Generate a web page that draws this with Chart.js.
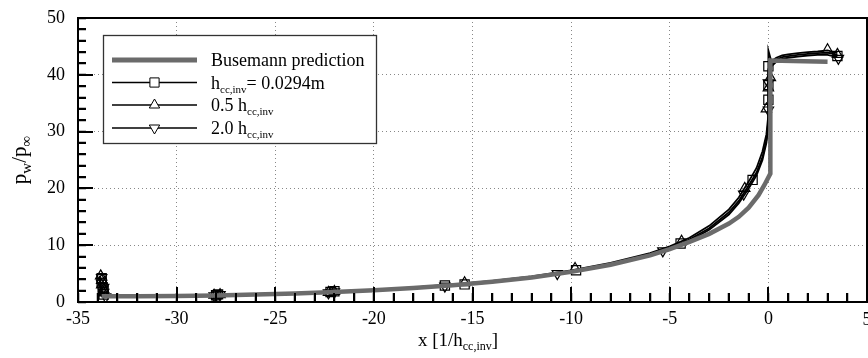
<!DOCTYPE html>
<html>
<head>
<meta charset="utf-8">
<script src="https://cdn.jsdelivr.net/npm/chart.js@4"></script>
<style>
html,body{margin:0;padding:0;background:#fff;}
canvas{display:block;}
</style>
</head>
<body>
<canvas id="chart" width="868" height="358" style="width:868px;height:358px"></canvas>
<script>
// tick values (every integer / every 2 units carries a minor tick)
var xTicks = [-35, -30, -25, -20, -15, -10, -5, 0, 5];
var yTicks = [0, 10, 20, 30, 40, 50];
var xMinor = [];
for (var i = -35; i <= 5; i++) xMinor.push(i);
var yMinor = [];
for (var j = 0; j <= 50; j += 2) yMinor.push(j);

// Busemann prediction (grey)
var busX = [-33.8, -32, -30, -28, -26, -24, -22, -20, -18, -16, -14, -12, -10, -8, -6, -5, -4, -3, -2, -1.5, -1, -0.5, -0.2, 0.1, 0.1, 3.0];
var busY = [1.0, 1.0, 1.05, 1.15, 1.3, 1.5, 1.75, 2.05, 2.45, 2.95, 3.55, 4.3, 5.3, 6.55, 8.2, 9.3, 10.6, 12.0, 13.8, 15.0, 16.6, 18.8, 20.6, 22.6, 42.5, 42.3];

// computed wall pressure lines, same x stations for the three grids
var lineX = [-33.9, -33.8, -33.5, -32, -30, -28, -26, -24, -22, -20, -18, -16, -14, -12, -10, -8, -6, -5, -4, -3, -2, -1.5, -1, -0.6, -0.3, -0.1, 0, 0, 0.15, 0.4, 0.7, 1, 1.5, 2, 2.5, 3, 3.5];
var lineH  = [3.8, 1.4, 1.1, 1.05, 1.1, 1.2, 1.35, 1.55, 1.8, 2.1, 2.5, 3.0, 3.6, 4.4, 5.4, 6.7, 8.4, 9.6, 11.0, 13.0, 15.8, 17.8, 20.5, 22.8, 25.5, 28.5, 32.0, 41.0, 42.0, 42.7, 43.1, 43.3, 43.5, 43.7, 43.8, 43.9, 43.5];
var lineH05 = [4.6, 1.6, 1.2, 1.1, 1.15, 1.25, 1.4, 1.6, 1.85, 2.15, 2.55, 3.1, 3.7, 4.5, 5.55, 6.9, 8.6, 9.8, 11.3, 13.4, 16.3, 18.4, 21.2, 23.6, 26.5, 29.5, 33.0, 44.3, 42.4, 43.0, 43.4, 43.6, 43.8, 44.0, 44.1, 44.3, 43.8];
var lineH20 = [4.2, 1.2, 1.0, 0.95, 1.0, 1.1, 1.25, 1.45, 1.7, 2.0, 2.4, 2.85, 3.45, 4.25, 5.2, 6.5, 8.2, 9.3, 10.7, 12.7, 15.4, 17.4, 20.0, 22.3, 25.0, 28.0, 31.0, 40.5, 41.5, 42.3, 42.8, 43.0, 43.2, 43.4, 43.5, 43.5, 43.1];

// markers
var sqX = [-33.8, -33.8, -33.75, -33.7, -33.7, -28, -27.9, -22.2, -22.0, -16.4, -15.4, -9.75, -4.45, -0.8, 0, 0, 0, 3.5];
var sqY = [4.2, 3.4, 2.6, 2.0, 1.3, 1.2, 1.35, 1.75, 1.9, 2.9, 3.1, 5.6, 10.3, 21.5, 35.6, 38.2, 41.5, 43.3];
var upX = [-33.85, -33.8, -33.8, -33.7, -33.7, -27.8, -28.1, -22.0, -22.3, -15.4, -9.8, -4.4, -1.2, -0.1, 0, 0.1, 3.0, 3.5];
var upY = [4.6, 3.8, 3.0, 2.2, 1.6, 1.3, 1.2, 1.85, 1.7, 3.4, 5.9, 10.7, 20.0, 34.0, 37.7, 39.5, 44.4, 43.6];
var dnX = [-33.8, -33.8, -33.7, -33.7, -33.6, -28.1, -27.8, -22.3, -22.0, -16.4, -10.7, -5.35, -1.25, 0, 0, 3.55];
var dnY = [4.3, 3.3, 2.6, 1.7, 0.9, 1.1, 1.3, 1.6, 1.8, 2.8, 5.0, 9.0, 19.0, 33.8, 38.6, 42.9];

var FONT = "'Liberation Serif', 'Times New Roman', serif";
var GREY = '#6b6b6b';

function pts(xs, ys) {
	return xs.map(function(x, i) { return {x: x, y: ys[i]}; });
}

function lineSet(data, color, width) {
	return {data: data, showLine: true, borderColor: color, borderWidth: width, pointRadius: 0, tension: 0, fill: false};
}
function markSet(data, style, r, rot) {
	return {data: data, showLine: false, pointStyle: style, pointRadius: r, pointRotation: rot || 0,
		pointBorderColor: '#000', pointBackgroundColor: 'rgba(0,0,0,0)', pointBorderWidth: 1.2};
}

// text with subscripts, parts = [[text, isSub], ...]
function richWidth(c, parts, big, small) {
	var w = 0;
	parts.forEach(function(p) {
		c.font = (p[1] ? small : big) + 'px ' + FONT;
		w += c.measureText(p[0]).width;
	});
	return w;
}
function drawRich(c, parts, x, y, big, small, drop) {
	parts.forEach(function(p) {
		c.font = (p[1] ? small : big) + 'px ' + FONT;
		c.fillText(p[0], x, y + (p[1] ? drop : 0));
		x += c.measureText(p[0]).width;
	});
}

function marker(c, style, x, y, r, rot) {
	c.beginPath();
	if (style == 'rect') {
		var s = r * Math.SQRT1_2;
		c.rect(x - s, y - s, 2 * s, 2 * s);
	} else {
		var a = rot * Math.PI / 180;
		for (var k = 0; k < 3; k++) {
			var px = x + Math.sin(a) * r, py = y - Math.cos(a) * r;
			if (k == 0) c.moveTo(px, py); else c.lineTo(px, py);
			a += 2 * Math.PI / 3;
		}
		c.closePath();
	}
	c.fillStyle = '#fff';
	c.fill();
	c.stroke();
}

function gridColor(step, lo, hi) {
	return function(g) {
		var v = g.tick ? g.tick.value : null;
		return (v !== null && v % step == 0 && v > lo && v < hi) ? '#888' : 'rgba(0,0,0,0)';
	};
}

var framePlugin = {
	id: 'axisframe',
	afterDraw: function(chart) {
		var c = chart.ctx, a = chart.chartArea;
		var xs = chart.scales.x, ys = chart.scales.y;
		c.save();
		c.setLineDash([]);
		c.globalAlpha = 1;
		c.globalCompositeOperation = 'source-over';
		c.strokeStyle = '#000';
		c.lineWidth = 2;
		// inward ticks on top of the data, major and minor
		xMinor.forEach(function(v) {
			var px = Math.round(xs.getPixelForValue(v));
			var len = (v % 5 == 0) ? 15 : 9;
			c.beginPath(); c.moveTo(px, a.bottom); c.lineTo(px, a.bottom - len); c.stroke();
		});
		yMinor.forEach(function(v) {
			var py = Math.round(ys.getPixelForValue(v));
			var len = (v % 10 == 0) ? 15 : 8;
			c.beginPath(); c.moveTo(a.left, py); c.lineTo(a.left + len, py); c.stroke();
		});
		c.strokeRect(a.left, a.top, a.right - a.left, a.bottom - a.top);

		c.fillStyle = '#000';
		c.textBaseline = 'alphabetic';

		// last x label sits on the canvas edge, half cut off
		c.font = '18px ' + FONT;
		c.textAlign = 'center';
		c.fillText('5', xs.getPixelForValue(5), a.bottom + 23);
		c.textAlign = 'left';

		// axis titles
		var xt = [['x [1/h', 0], ['cc,inv', 1], [']', 0]];
		drawRich(c, xt, 458 - richWidth(c, xt, 19, 12) / 2, 346, 19, 12, 4);
		var yt = [['p', 0], ['w', 1], ['/p', 0], ['\u221e', 1]];
		c.save();
		c.translate(26, 160);
		c.rotate(-Math.PI / 2);
		drawRich(c, yt, -richWidth(c, yt, 21, 15) / 2, 0, 21, 15, 5);
		c.restore();

		// legend box
		c.fillStyle = '#fff';
		c.fillRect(103, 35, 274, 109);
		c.strokeStyle = '#333';
		c.lineWidth = 1.3;
		c.strokeRect(103.5, 35.5, 273, 108);

		var rows = [
			{y: 60, color: GREY, width: 5, mark: null, text: [['Busemann prediction', 0]]},
			{y: 82.5, color: '#000', width: 1.5, mark: 'rect', r: 6.5, rot: 0, text: [['h', 0], ['cc,inv', 1], ['= 0.0294m', 0]]},
			{y: 105, color: '#000', width: 1.5, mark: 'triangle', r: 6, rot: 0, text: [['0.5 h', 0], ['cc,inv', 1]]},
			{y: 128, color: '#000', width: 1.5, mark: 'triangle', r: 6, rot: 180, text: [['2.0 h', 0], ['cc,inv', 1]]}
		];
		rows.forEach(function(row) {
			c.strokeStyle = row.color;
			c.lineWidth = row.width;
			c.beginPath(); c.moveTo(112, row.y); c.lineTo(197, row.y); c.stroke();
			if (row.mark) {
				c.strokeStyle = '#000';
				c.lineWidth = 1;
				marker(c, row.mark, 154.5, row.y, row.r, row.rot);
			}
			c.fillStyle = '#000';
			drawRich(c, row.text, 211, row.y + 6, 18, 11, 4);
		});
		c.restore();
	}
};

var config = {
	type: 'scatter',
	data: {
		datasets: [
			lineSet(pts(busX, busY), GREY, 4.5),
			lineSet(pts(lineX, lineH), '#000', 1.8),
			lineSet(pts(lineX, lineH05), '#000', 1.8),
			lineSet(pts(lineX, lineH20), '#000', 1.8),
			markSet(pts(sqX, sqY), 'rect', 6.5),
			markSet(pts(upX, upY), 'triangle', 6),
			markSet(pts(dnX, dnY), 'triangle', 6, 180)
		]
	},
	options: {
		responsive: false,
		animation: false,
		devicePixelRatio: 1,
		layout: {autoPadding: false, padding: {top: 18, right: 1, left: 0, bottom: 0}},
		plugins: {legend: {display: false}, tooltip: {enabled: false}},
		scales: {
			x: {
				type: 'linear', min: -35, max: 5,
				afterBuildTicks: function(s) { s.ticks = xMinor.map(function(v) { return {value: v}; }); },
				ticks: {
					font: {family: FONT, size: 18}, color: '#000', padding: 15, maxRotation: 0, autoSkip: false,
					callback: function(v) { return (v % 5 == 0 && v != 5) ? String(v) : ''; }
				},
				grid: {display: true, drawOnChartArea: true, drawTicks: true, tickLength: -9, tickWidth: 1.5, tickColor: '#000',
					lineWidth: 1, color: gridColor(5, -35, 5)},
				border: {display: false, dash: [1, 3]},
				afterFit: function(s) { s.height = 56; s.paddingLeft = 0; s.paddingRight = 0; }
			},
			y: {
				type: 'linear', min: 0, max: 50,
				afterBuildTicks: function(s) { s.ticks = yMinor.map(function(v) { return {value: v}; }); },
				ticks: {
					font: {family: FONT, size: 18}, color: '#000', padding: 21, autoSkip: false,
					callback: function(v) { return v % 10 == 0 ? String(v) : ''; }
				},
				grid: {display: true, drawOnChartArea: true, drawTicks: true, tickLength: -8, tickWidth: 1.5, tickColor: '#000',
					lineWidth: 1, color: gridColor(10, 0, 50)},
				border: {display: false, dash: [1, 3]},
				afterFit: function(s) { s.width = 78; s.paddingTop = 0; s.paddingBottom = 0; }
			}
		}
	},
	plugins: [framePlugin]
};
var pwChart = new Chart(document.getElementById('chart').getContext('2d'), config);
</script>
</body>
</html>
